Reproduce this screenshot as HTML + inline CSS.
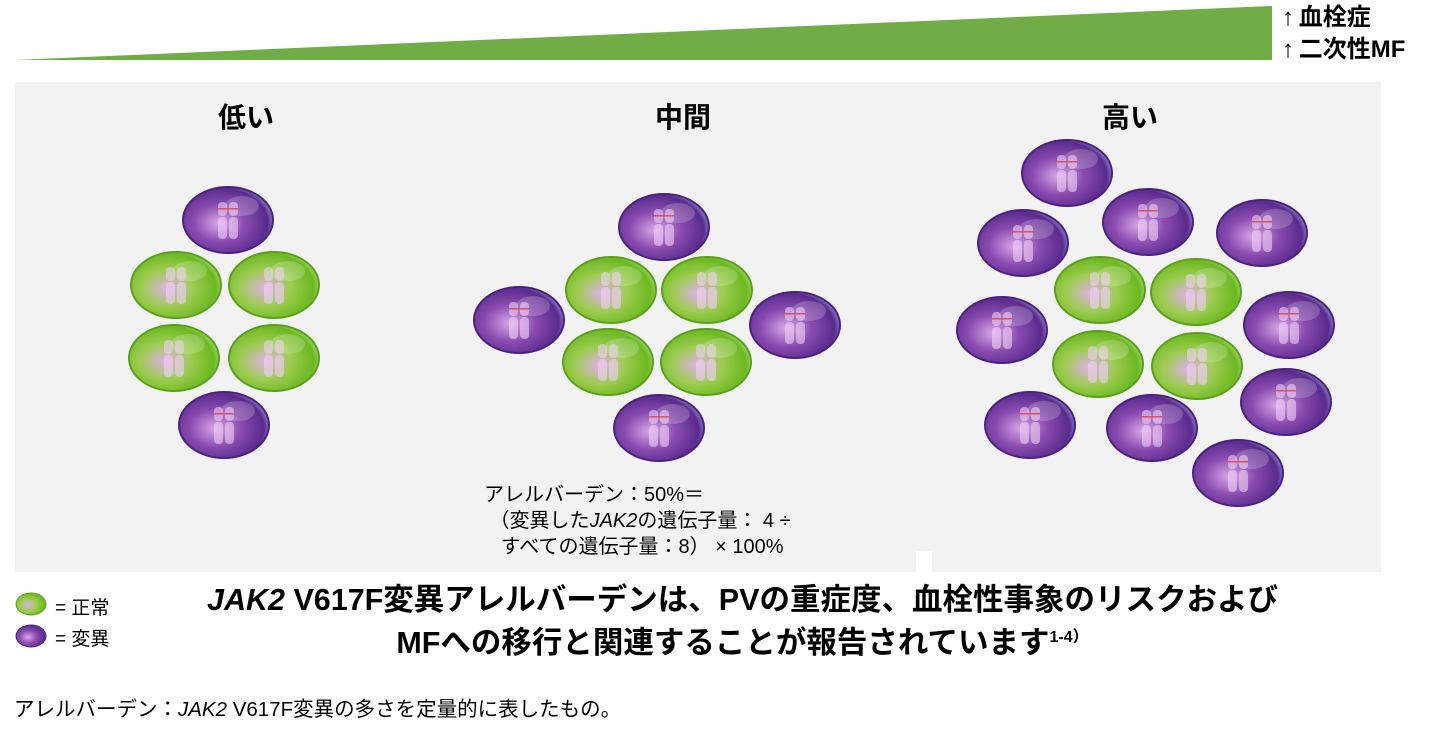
<!DOCTYPE html><html><head><meta charset="utf-8"><style>
body{margin:0;width:1440px;height:735px;background:#fff;position:relative;overflow:hidden;font-family:"Liberation Sans","Noto Sans CJK JP",sans-serif;color:#000}
.t{position:absolute;white-space:nowrap}
</style></head><body>
<svg width="1440" height="735" style="position:absolute;left:0;top:0">
<defs>
<radialGradient id="p" cx="0.4" cy="0.55" r="0.65">
<stop offset="0" stop-color="#d9a8e8"/><stop offset="0.45" stop-color="#8a4bb0"/><stop offset="0.85" stop-color="#5a2a8c"/><stop offset="1" stop-color="#9aa0e0"/></radialGradient>
<radialGradient id="g" cx="0.4" cy="0.55" r="0.65">
<stop offset="0" stop-color="#e0b0e8"/><stop offset="0.45" stop-color="#9ccc50"/><stop offset="0.85" stop-color="#6cb820"/><stop offset="1" stop-color="#a8e080"/></radialGradient>
<g id="ch"><rect x="-10" y="-18" width="9" height="14" rx="4" fill="#f0d0f5" opacity="0.6"/><rect x="1" y="-18" width="9" height="14" rx="4" fill="#f0d0f5" opacity="0.6"/><rect x="-10" y="-3" width="9" height="22" rx="4" fill="#f0d0f5" opacity="0.6"/><rect x="1" y="-3" width="9" height="22" rx="4" fill="#f0d0f5" opacity="0.6"/></g>
<g id="P"><ellipse rx="46" ry="34" fill="#4a2080"/><ellipse rx="44" ry="32" fill="url(#p)"/><ellipse cx="14" cy="-14" rx="17" ry="10" fill="#fff" opacity="0.2"/><use href="#ch"/><rect x="-10" y="-12" width="20" height="1.5" fill="#e05060"/></g>
<g id="G"><ellipse rx="46" ry="34" fill="#5aa018"/><ellipse rx="44" ry="32" fill="url(#g)"/><ellipse cx="14" cy="-14" rx="17" ry="10" fill="#fff" opacity="0.2"/><use href="#ch"/></g>
</defs>
<polygon points="15,60 1272,6 1272,60" fill="#70ad47"/>
<rect x="15" y="82" width="1366" height="490" fill="#f2f2f2"/>
<rect x="916" y="551" width="16" height="21" fill="#fff"/>
<use href="#P" x="228" y="220"/><use href="#G" x="176" y="285"/><use href="#G" x="274" y="285"/><use href="#G" x="174" y="358"/><use href="#G" x="274" y="358"/><use href="#P" x="224" y="425"/>
<use href="#P" x="664" y="227"/><use href="#G" x="611" y="290"/><use href="#G" x="707" y="290"/><use href="#P" x="519" y="320"/><use href="#P" x="795" y="325"/><use href="#G" x="608" y="362"/><use href="#G" x="706" y="362"/><use href="#P" x="659" y="428"/>
<use href="#P" x="1067" y="173"/><use href="#P" x="1148" y="222"/><use href="#P" x="1023" y="243"/><use href="#P" x="1262" y="233"/><use href="#G" x="1100" y="290"/><use href="#G" x="1196" y="292"/><use href="#P" x="1002" y="330"/><use href="#P" x="1289" y="325"/><use href="#G" x="1098" y="364"/><use href="#G" x="1197" y="366"/><use href="#P" x="1030" y="425"/><use href="#P" x="1152" y="428"/><use href="#P" x="1286" y="402"/><use href="#P" x="1238" y="473"/>
<ellipse cx="31" cy="604" rx="15" ry="11" fill="url(#g)" stroke="#5aa018"/>
<ellipse cx="31" cy="636" rx="15" ry="11" fill="url(#p)" stroke="#4a2080"/>
</svg>
<div class="t" style="left:1282px;top:2px;font-size:24px;font-weight:bold;line-height:32px">↑&thinsp;血栓症<br>↑&thinsp;二次性MF</div>
<div class="t" style="left:218px;top:96px;font-size:28px;font-weight:bold">低い</div>
<div class="t" style="left:655px;top:96px;font-size:28px;font-weight:bold">中間</div>
<div class="t" style="left:1102px;top:96px;font-size:28px;font-weight:bold">高い</div>
<div class="t" style="left:484px;top:482px;font-size:20px;line-height:26px">アレルバーデン：50%＝<br>&nbsp;（変異した<i>JAK2</i>の遺伝子量： 4 ÷<br>&nbsp;&nbsp;&nbsp;すべての遺伝子量：8） × 100%</div>
<div class="t" style="left:55px;top:593px;font-size:19px">= 正常</div>
<div class="t" style="left:55px;top:624px;font-size:19px">= 変異</div>
<div class="t" style="left:150px;top:581px;width:1185px;text-align:center;font-size:30.5px;font-weight:bold;line-height:38px"><i>JAK2</i> V617F変異アレルバーデンは、PVの重症度、血栓性事象のリスクおよび<br>MFへの移行と関連することが報告されています<sup style="font-size:16px">1-4）</sup></div>
<div class="t" style="left:14px;top:692px;font-size:20.5px">アレルバーデン：<i>JAK2</i> V617F変異の多さを定量的に表したもの。</div>
</body></html>
